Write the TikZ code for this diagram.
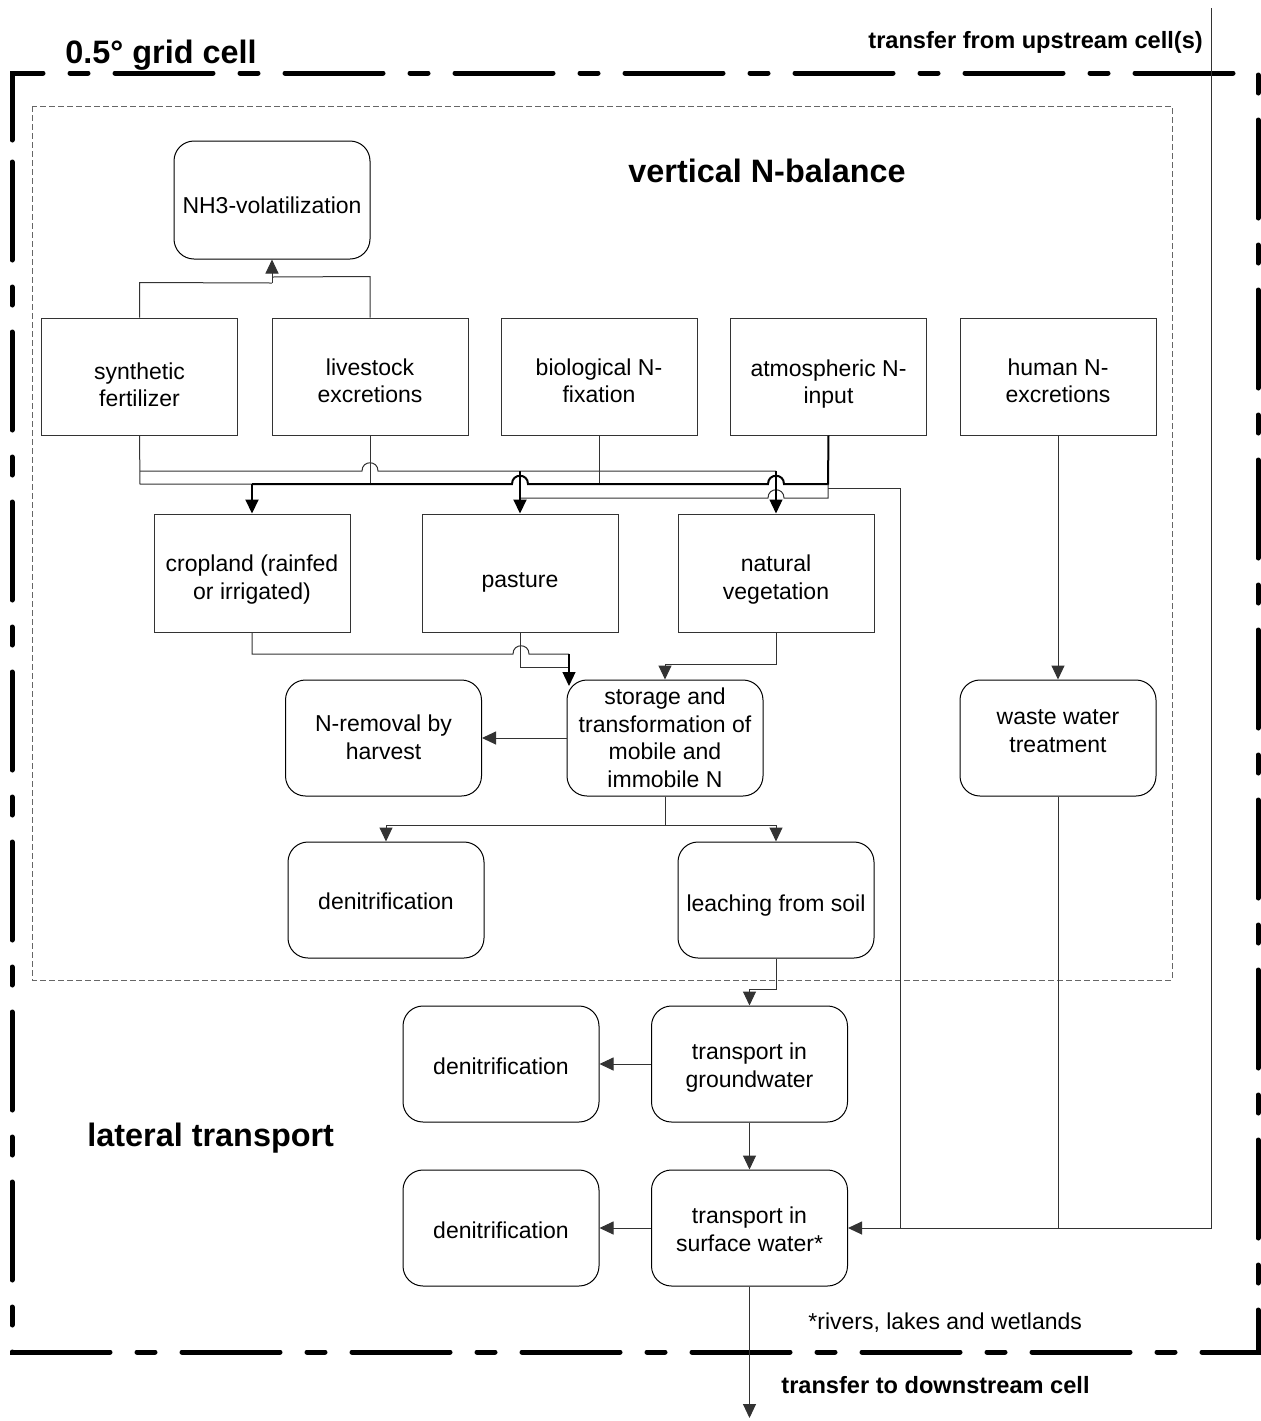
\documentclass[tikz,border=0pt]{standalone}
\usepackage{fontspec}
\setmainfont{Liberation Sans}
\usetikzlibrary{arrows.meta}
\newcommand{\btx}[2]{\raisebox{-#1}[\height][\depth]{\begin{tabular}{@{}c@{}}#2\end{tabular}}}
\begin{document}
\begin{tikzpicture}[x=0.5pt,y=-0.5pt,
  box/.style={draw=black!80, line width=0.5pt, minimum width=98pt, minimum height=58.5pt, inner sep=0pt, font=\fontsize{11.5}{13.9}\selectfont},
  rbox/.style={box, draw=black, rounded corners=10pt},
  conn/.style={draw=black!80, line width=0.5pt},
  bus/.style={draw=black, line width=1pt},
  arr/.style={-{Triangle[length=7pt,width=6.5pt]}},
  title/.style={font=\fontsize{16.2}{19}\selectfont\bfseries, inner sep=0pt},
  small/.style={font=\fontsize{11.8}{14}\selectfont\bfseries, inner sep=0pt},
  note/.style={font=\fontsize{11.5}{14}\selectfont, inner sep=0pt}
]
\useasboundingbox (0,0) rectangle (1261,1421);

% outer grid cell border
\draw[line width=2.5pt, line cap=round, dash pattern=on 49pt off 13.5pt on 9pt off 13.5pt]
  (12,140) -- (12,73) -- (1258,73) -- (1258,1352) -- (12,1352) -- cycle;
% inner vertical balance border
\draw[draw=black!60, line width=0.5pt, dash pattern=on 3pt off 1.5pt] (32,106) rectangle (1172,980);

% labels
\node[title, anchor=base west] (lgrid) at (65,63) {0.5° grid cell};
\node[small, anchor=base west] (lup) at (868,48) {transfer from upstream cell(s)};
\node[title, anchor=base west] (lvert) at (628,182) {vertical N-balance};
\node[title, anchor=base west] (llat) at (87,1146) {lateral transport};
\node[note, anchor=base west] (lriv) at (808,1329) {*rivers, lakes and wetlands};
\node[small, anchor=base west] (ldown) at (781,1393) {transfer to downstream cell};

% nodes
\node[rbox, minimum height=59pt] (nh3) at (272,200) {\btx{4pt}{NH3-volatilization}};
\node[box] (syn) at (139.5,376.5) {\btx{5.5pt}{synthetic\\fertilizer}};
\node[box] (liv) at (370,376.5) {\btx{3.5pt}{livestock\\excretions}};
\node[box] (bio) at (599,376.5) {\btx{3.5pt}{biological N-\\fixation}};
\node[box] (atm) at (828.5,376.5) {\btx{4pt}{atmospheric N-\\input}};
\node[box] (hum) at (1058,376.5) {\btx{3.5pt}{human N-\\excretions}};
\node[box, minimum height=59pt] (crop) at (252,573) {\btx{3.5pt}{cropland (rainfed\\or irrigated)}};
\node[box, minimum height=59pt] (past) at (520,573) {\btx{4.5pt}{pasture}};
\node[box, minimum height=59pt] (nat) at (776,573) {\btx{3.5pt}{natural\\vegetation}};
\node[rbox, minimum height=58pt] (store) at (665,738) {\btx{1.25pt}{storage and\\transformation of\\mobile and\\immobile N}};
\node[rbox, minimum height=58pt] (harv) at (383.5,738) {\btx{1pt}{N-removal by\\harvest}};
\node[rbox, minimum height=58pt] (waste) at (1058,738) {\btx{-2.5pt}{waste water\\treatment}};
\node[rbox, minimum height=58pt] (den1) at (386,900) {\btx{2pt}{denitrification}};
\node[rbox, minimum height=58pt] (leach) at (776,900) {\btx{3pt}{leaching from soil}};
\node[rbox, minimum height=58pt] (gw) at (749.5,1064) {\btx{2pt}{transport in\\groundwater}};
\node[rbox, minimum height=58pt] (den2) at (501,1064) {\btx{2.5pt}{denitrification}};
\node[rbox, minimum height=58pt] (sw) at (749.5,1228) {\btx{2pt}{transport in\\surface water*}};
\node[rbox, minimum height=58pt] (den3) at (501,1228) {\btx{2.5pt}{denitrification}};

\coordinate (up) at (1211,8);
\coordinate (down) at (749.5,1418);

% NH3 volatilization
\draw[conn] (syn.north) -- ++(0,-35) -- (272,283);
\draw[conn] (liv.north) -- ++(0,-41) -- (272,277);
\draw[conn,arr] (272,283) -- (nh3.south);

% inputs to land use
\draw[conn] (syn.south) -- (140,484) -- (252,484);
\draw[conn] (140,471) -- (362,471) .. controls (362,460) and (378,460) .. (378,471) -- (776,471);
\draw[conn] (liv.south) -- (370,484);
\draw[conn] (bio.south) -- (599,484);
\draw[bus] (252,484) -- (512,484) .. controls (512,473) and (528,473) .. (528,484)
  -- (768,484) .. controls (768,473) and (784,473) .. (784,484) -- (828,484) -- (atm.south);
\draw[conn] (520,498) -- (768,498) .. controls (768,487) and (784,487) .. (784,498) -- (828,498) -- (828,484);
\draw[bus,arr] (252,484) -- (crop.north);
\draw[bus,arr] (520,471) -- (past.north);
\draw[draw=black,line width=0.6pt,arr] (776,471) -- (nat.north);
\draw[conn] (828,488) -- (900,488) -- (900,1228);

% land use to storage
\draw[conn] (crop.south) -- (252,654) -- (513,654) .. controls (513,643) and (529,643) .. (529,654) -- (569,654);
\draw[conn] (past.south) -- (520,667) -- (569,667);
\draw[draw=black,line width=0.6pt,arr] (569,654) -- (569,686);
\draw[conn,arr] (nat.south) -- ++(0,32) -| (store.north);

% storage outputs
\draw[conn,arr] (store.west) -- (harv.east);
\draw[conn,arr] (store.south) -- ++(0,29) -| (den1.north);
\draw[conn,arr] (store.south) -- ++(0,29) -| (leach.north);
\draw[conn,arr] (leach.south) -- ++(0,31) -| (gw.north);

% lateral transport
\draw[conn,arr] (gw.west) -- (den2.east);
\draw[conn,arr] (gw.south) -- (sw.north);
\draw[conn,arr] (sw.west) -- (den3.east);
\draw[conn,arr] (sw.south) -- (down);

% human
\draw[conn,arr] (hum.south) -- (waste.north);
\draw[conn] (waste.south) -- (waste.south |- sw.east);
\draw[conn,arr] (up) |- (sw.east);
\end{tikzpicture}
\end{document}
